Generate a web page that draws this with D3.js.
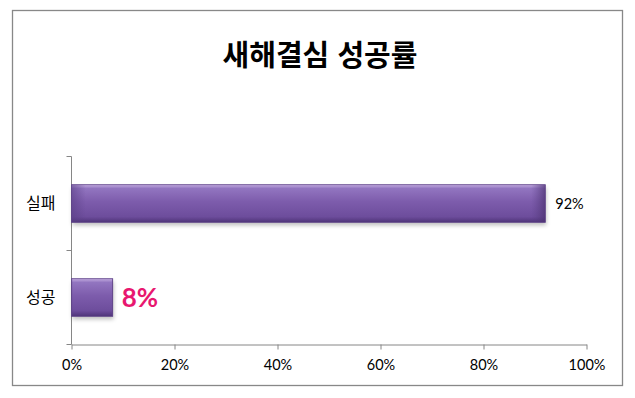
<!DOCTYPE html>
<html lang="ko">
<head>
<meta charset="UTF-8">
<title>새해결심 성공률</title>
<script src="https://d3js.org/d3.v7.js"></script>
<style>
body { margin: 0; background: #fff; }
svg { display: block; }
.axis path, .axis line { stroke: #868686; }
.axis text { font-family: Lato, "Noto Sans CJK KR", sans-serif; font-size: 14.5px; fill: #000; }
.cat text { font-family: "Noto Sans CJK KR", sans-serif; font-size: 16px; }
</style>
</head>
<body>
<svg id="chart" width="635" height="398"></svg>
<script>
const categories = ["실패", "성공"];
const values = [92, 8];
const valueLabels = ["92%", "8%"];
const xTicks = [0, 20, 40, 60, 80, 100];

const svg = d3.select("#chart");
const margin = {left: 71.5, right: 48.5, top: 156.5, bottom: 53.5};
const W = 635, H = 398;

// frame
svg.append("rect")
    .attr("x", 12.5).attr("y", 10.5)
    .attr("width", 610).attr("height", 375)
    .attr("fill", "#fff").attr("stroke", "#888").attr("stroke-width", 1.3);

svg.append("text")
    .attr("x", 320).attr("y", 66)
    .attr("text-anchor", "middle")
    .style("font-family", "'Noto Sans CJK KR', sans-serif")
    .style("font-weight", "bold")
    .style("font-size", "29px")
    .text("새해결심 성공률");

const x = d3.scaleLinear().domain([0, 100]).range([margin.left, W - margin.right]);
const y = d3.scaleBand().domain(categories).range([margin.top, H - margin.bottom]).paddingInner(0.6).paddingOuter(0.3);

const defs = svg.append("defs");
const grad = defs.append("linearGradient").attr("id", "barGrad")
    .attr("x1", 0).attr("y1", 0).attr("x2", 0).attr("y2", 1);
[["0%", "#c3abe0"], ["10%", "#9275c0"], ["45%", "#7d5cac"], ["85%", "#6d4d9c"], ["100%", "#4f3479"]]
    .forEach(s => grad.append("stop").attr("offset", s[0]).attr("stop-color", s[1]));
const side = defs.append("linearGradient").attr("id", "sideGrad")
    .attr("x1", 0).attr("y1", 0).attr("x2", 1).attr("y2", 0);
[["0%", "#5a3f86", 0.6], ["3%", "#5a3f86", 0], ["97%", "#5a3f86", 0], ["100%", "#4a306e", 0.7]]
    .forEach(s => side.append("stop").attr("offset", s[0]).attr("stop-color", s[1]).attr("stop-opacity", s[2]));
const blur = defs.append("filter").attr("id", "shadow").attr("x", "-10%").attr("y", "-20%").attr("width", "130%").attr("height", "160%");
blur.append("feGaussianBlur").attr("stdDeviation", 2);

// axes
svg.append("g").attr("class", "axis")
    .attr("transform", `translate(0,${H - margin.bottom})`)
    .call(d3.axisBottom(x).tickValues(xTicks).tickFormat(d => d + "%").tickSize(5).tickSizeOuter(0).tickPadding(10));

const yEdges = [margin.top, (y("실패") + y.bandwidth() + y("성공")) / 2, H - margin.bottom];
const yAxis = svg.append("g").attr("class", "axis cat").attr("transform", `translate(${margin.left},0)`);
yAxis.append("line").attr("x1", 0).attr("x2", 0).attr("y1", margin.top).attr("y2", H - margin.bottom);
yAxis.selectAll("line.tk").data(yEdges).join("line").attr("class", "tk")
    .attr("x1", -5).attr("x2", 0).attr("y1", d => d).attr("y2", d => d);
yAxis.selectAll("text").data(categories).join("text")
    .attr("x", -16).attr("y", d => y(d) + y.bandwidth() / 2)
    .attr("dy", "0.35em").attr("text-anchor", "end").text(d => d);

// bars
const bars = svg.append("g").selectAll("g").data(categories).join("g");
bars.append("rect")
    .attr("x", x(0) + 1).attr("y", d => y(d) + 3)
    .attr("width", (d, i) => x(values[i]) - x(0))
    .attr("height", y.bandwidth())
    .attr("fill", "#000").attr("opacity", 0.25).attr("filter", "url(#shadow)");
bars.append("rect")
    .attr("x", x(0)).attr("y", d => y(d))
    .attr("width", (d, i) => x(values[i]) - x(0))
    .attr("height", y.bandwidth())
    .attr("fill", "url(#barGrad)");
bars.append("rect")
    .attr("x", x(0)).attr("y", d => y(d))
    .attr("width", (d, i) => x(values[i]) - x(0))
    .attr("height", y.bandwidth())
    .attr("fill", "url(#sideGrad)")
    .attr("stroke", "#5e4288").attr("stroke-width", 0.8);

// value labels
bars.append("text")
    .attr("x", (d, i) => x(values[i]) + (i === 1 ? 9 : 10))
    .attr("y", d => y(d) + y.bandwidth() / 2)
    .attr("dy", "0.35em")
    .style("font-family", "Lato, sans-serif")
    .style("font-size", (d, i) => i === 1 ? "26px" : "14.5px")
    .style("font-weight", (d, i) => i === 1 ? "bold" : "normal")
    .attr("fill", (d, i) => i === 1 ? "#e8176f" : "#000")
    .text((d, i) => valueLabels[i]);
</script>
</body>
</html>
